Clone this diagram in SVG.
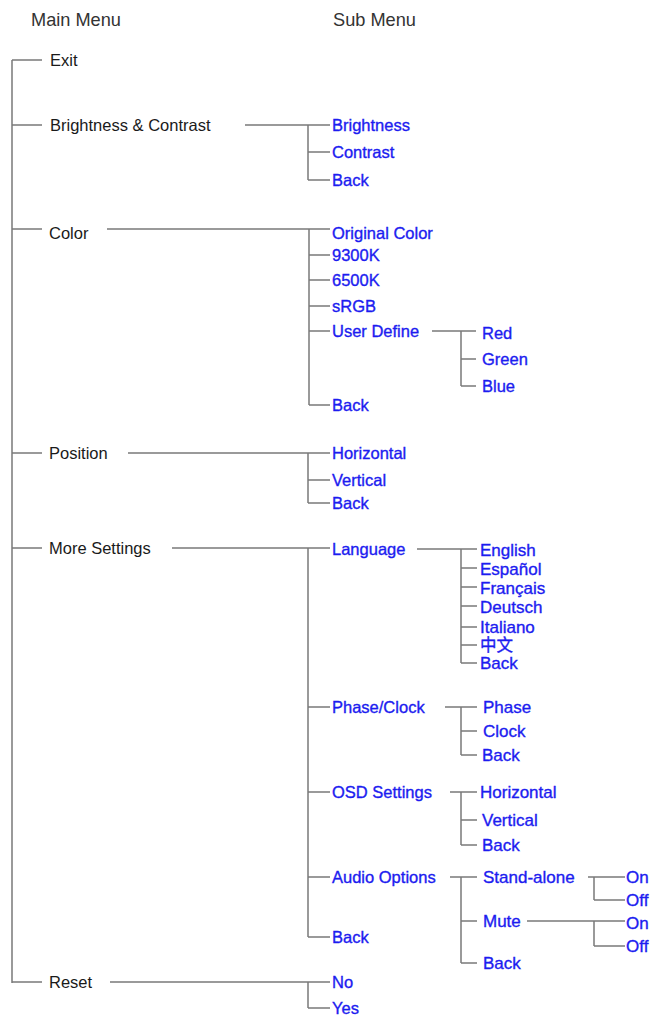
<svg xmlns="http://www.w3.org/2000/svg" width="653" height="1021" viewBox="0 0 653 1021">
<style>
.hd{font-family:"Liberation Sans",Arial,sans-serif;font-size:18.2px;fill:#333}
.m{font-family:"Liberation Sans",Arial,sans-serif;font-size:16.5px;fill:#1a1a1a}
.s{font-family:"Liberation Sans","Noto Sans CJK SC",Arial,sans-serif;font-size:16.5px;fill:#1c1cf0;stroke:#1c1cf0;stroke-width:0.35}
.t{font-size:17px}
.c{fill:none;stroke:#7a7a7a;stroke-width:1.5}
</style>
<rect width="653" height="1021" fill="#fff"/>
<g id="connectors" class="c">
<path d="M12 60V983M12 60H42M12 125H42M12 229H42M12 453H42M12 548H42M12 982H42"/>
<path d="M245 125H330M308 125V180M308 152H330M308 180H330"/>
<path d="M107 229H330M309 229V405M309 255H330M309 280H330M309 306H330M309 331H330M309 405H330"/>
<path d="M432 331H476M461 331V386M461 359H476M461 386H476"/>
<path d="M128 453H330M308 453V503M308 480H330M308 503H330"/>
<path d="M172 548H330M308 548V937M308 707H330M308 792H330M308 877H330M308 937H330"/>
<path d="M417 549H477M461 549V663M461 568H477M461 587H477M461 606H477M461 627H477M461 645H477M461 663H477"/>
<path d="M445 707H477M461 707V755M461 731H477M461 755H477"/>
<path d="M450 792H477M461 792V845M461 820H477M461 845H477"/>
<path d="M450 877H477M461 877V963M461 921H477M461 963H477"/>
<path d="M588 877H625M594 877V900M594 900H625"/>
<path d="M527 921H625M594 921V946M594 946H625"/>
<path d="M110 982H330M308 982V1008M308 1008H330"/>
</g>
<g id="headers">
<text class="hd" x="31" y="26">Main Menu</text>
<text class="hd" x="333" y="26">Sub Menu</text>
</g>
<g id="exit"><text class="m" x="50" y="66">Exit</text></g>
<g id="brightness-contrast">
<text class="m" x="50" y="131">Brightness &amp; Contrast</text>
<text class="s" x="332" y="131">Brightness</text>
<text class="s" x="332" y="158">Contrast</text>
<text class="s" x="332" y="186">Back</text>
</g>
<g id="color">
<text class="m" x="49" y="239">Color</text>
<text class="s" x="332" y="239">Original Color</text>
<text class="s" x="332" y="261">9300K</text>
<text class="s" x="332" y="286">6500K</text>
<text class="s" x="332" y="312">sRGB</text>
<text class="s" x="332" y="337">User Define</text>
<text class="s" x="482" y="339">Red</text>
<text class="s" x="482" y="365">Green</text>
<text class="s" x="482" y="392">Blue</text>
<text class="s" x="332" y="411">Back</text>
</g>
<g id="position">
<text class="m" x="49" y="459">Position</text>
<text class="s" x="332" y="459">Horizontal</text>
<text class="s" x="332" y="486">Vertical</text>
<text class="s" x="332" y="509">Back</text>
</g>
<g id="more-settings">
<text class="m" x="49" y="554">More Settings</text>
<text class="s" x="332" y="555">Language</text>
<text class="s t" x="480" y="556">English</text>
<text class="s t" x="480" y="575">Español</text>
<text class="s t" x="480" y="594">Français</text>
<text class="s t" x="480" y="613">Deutsch</text>
<text class="s t" x="480" y="633">Italiano</text>
<text class="s" x="480" y="651">中文</text>
<text class="s t" x="480" y="669">Back</text>
<text class="s" x="332" y="713">Phase/Clock</text>
<text class="s t" x="483" y="713">Phase</text>
<text class="s t" x="483" y="737">Clock</text>
<text class="s t" x="482" y="761">Back</text>
<text class="s" x="332" y="798">OSD Settings</text>
<text class="s t" x="480" y="798">Horizontal</text>
<text class="s t" x="482" y="826">Vertical</text>
<text class="s t" x="482" y="851">Back</text>
<text class="s" x="332" y="883">Audio Options</text>
<text class="s t" x="483" y="883">Stand-alone</text>
<text class="s t" x="626" y="883">On</text>
<text class="s t" x="626" y="906">Off</text>
<text class="s t" x="483" y="927">Mute</text>
<text class="s t" x="626" y="929">On</text>
<text class="s t" x="626" y="952">Off</text>
<text class="s t" x="483" y="969">Back</text>
<text class="s" x="332" y="943">Back</text>
</g>
<g id="reset">
<text class="m" x="49" y="988">Reset</text>
<text class="s" x="332" y="988">No</text>
<text class="s" x="332" y="1014">Yes</text>
</g>
</svg>
